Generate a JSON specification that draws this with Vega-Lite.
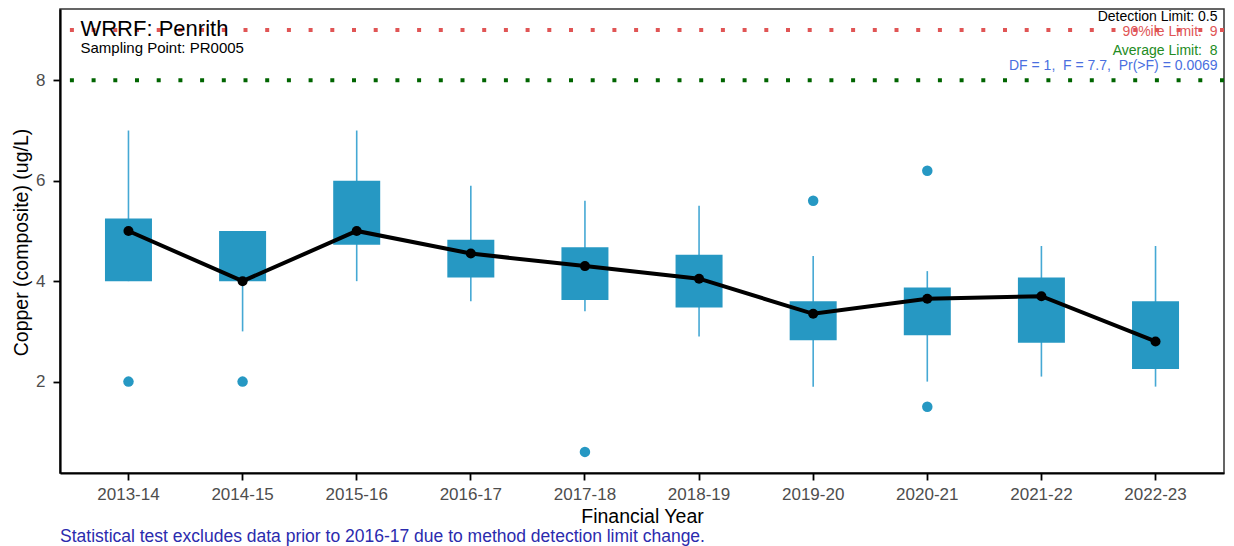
{
  "$schema": "https://vega.github.io/schema/vega-lite/v6.json",
  "width": 1164,
  "height": 464,
  "autosize": {"type": "none"},
  "padding": {"left": 60, "top": 9, "right": 10, "bottom": 73},
  "background": "white",
  "config": {
    "font": "Liberation Sans",
    "view": {"stroke": "#333333", "strokeWidth": 1.5},
    "axis": {"grid": false, "domainColor": "black", "domainWidth": 2.2, "tickColor": "black", "tickWidth": 1.8, "tickSize": 7, "labelColor": "#4D4D4D", "labelFontSize": 17, "titleColor": "black", "titleFontSize": 19.5, "titleFontWeight": "normal", "labelFont": "Liberation Sans", "titleFont": "Liberation Sans"}
  },
  "title": {"text": "Statistical test excludes data prior to 2016-17 due to method detection limit change.", "orient": "bottom", "anchor": "start", "frame": "group", "fontSize": 17.5, "fontWeight": "normal", "color": "#2B2BAE", "offset": 2, "font": "Liberation Sans"},
  "datasets": {
    "boxes": [
      {"year": "2013-14", "lower": 4.0, "q1": 4.0, "median": 5.0, "q3": 5.25, "upper": 7.0},
      {"year": "2014-15", "lower": 3.0, "q1": 4.0, "median": 4.0, "q3": 5.0, "upper": 5.0},
      {"year": "2015-16", "lower": 4.0, "q1": 4.725, "median": 5.0, "q3": 6.0, "upper": 7.0},
      {"year": "2016-17", "lower": 3.6, "q1": 4.075, "median": 4.55, "q3": 4.825, "upper": 5.9},
      {"year": "2017-18", "lower": 3.4, "q1": 3.625, "median": 4.3, "q3": 4.675, "upper": 5.6},
      {"year": "2018-19", "lower": 2.9, "q1": 3.475, "median": 4.05, "q3": 4.525, "upper": 5.5},
      {"year": "2019-20", "lower": 1.9, "q1": 2.825, "median": 3.35, "q3": 3.6, "upper": 4.5},
      {"year": "2020-21", "lower": 2.0, "q1": 2.925, "median": 3.65, "q3": 3.875, "upper": 4.2},
      {"year": "2021-22", "lower": 2.1, "q1": 2.775, "median": 3.7, "q3": 4.075, "upper": 4.7},
      {"year": "2022-23", "lower": 1.9, "q1": 2.25, "median": 2.8, "q3": 3.6, "upper": 4.7}
    ],
    "outliers": [
      {"year": "2013-14", "value": 2.0},
      {"year": "2014-15", "value": 2.0},
      {"year": "2017-18", "value": 0.6},
      {"year": "2019-20", "value": 5.6},
      {"year": "2020-21", "value": 6.2},
      {"year": "2020-21", "value": 1.5}
    ]
  },
  "layer": [
    {
      "data": {"name": "boxes"},
      "mark": {"type": "rule", "color": "#45A8D4", "strokeWidth": 1.6},
      "encoding": {
        "x": {"field": "year", "type": "nominal", "title": "Financial Year",
              "scale": {"paddingInner": 0, "paddingOuter": 0.1},
              "axis": {"labelAngle": 0, "labelPadding": 6, "titleY": 49, "titleBaseline": "alphabetic"}},
        "y": {"field": "lower", "type": "quantitative", "title": "Copper (composite) (ug/L)",
              "scale": {"domain": [0.18, 9.42], "nice": false, "zero": false},
              "axis": {"values": [2, 4, 6, 8], "labelPadding": 8, "titleX": -39, "titleY": 233, "titleAngle": 270, "titleAlign": "center", "titleBaseline": "middle"}},
        "y2": {"field": "upper"}
      }
    },
    {
      "data": {"name": "boxes"},
      "mark": {"type": "bar", "color": "#2698C3", "width": 47},
      "encoding": {
        "x": {"field": "year", "type": "nominal"},
        "y": {"field": "q1", "type": "quantitative"},
        "y2": {"field": "q3"}
      }
    },
    {
      "data": {"name": "outliers"},
      "mark": {"type": "circle", "color": "#2698C3", "size": 110, "opacity": 1},
      "encoding": {
        "x": {"field": "year", "type": "nominal"},
        "y": {"field": "value", "type": "quantitative"}
      }
    },
    {
      "data": {"name": "boxes"},
      "mark": {"type": "line", "color": "black", "strokeWidth": 4},
      "encoding": {
        "x": {"field": "year", "type": "nominal"},
        "y": {"field": "median", "type": "quantitative"}
      }
    },
    {
      "data": {"name": "boxes"},
      "mark": {"type": "circle", "color": "black", "size": 100, "opacity": 1},
      "encoding": {
        "x": {"field": "year", "type": "nominal"},
        "y": {"field": "median", "type": "quantitative"}
      }
    },
    {
      "data": {"values": [{}]},
      "mark": {"type": "rule", "color": "#E05555", "strokeWidth": 4, "strokeDash": [4, 17.7], "strokeCap": "butt"},
      "encoding": {"y": {"datum": 9}}
    },
    {
      "data": {"values": [{}]},
      "mark": {"type": "rule", "color": "#006400", "strokeWidth": 4, "strokeDash": [4, 17.7], "strokeCap": "butt"},
      "encoding": {"y": {"datum": 8}}
    },
    {
      "data": {"values": [{}]},
      "mark": {"type": "text", "align": "left", "baseline": "middle", "fontSize": 22, "color": "black", "dx": -48},
      "encoding": {"x": {"datum": "2013-14", "type": "nominal"}, "y": {"datum": 9.03}, "text": {"value": "WRRF: Penrith"}}
    },
    {
      "data": {"values": [{}]},
      "mark": {"type": "text", "align": "left", "baseline": "middle", "fontSize": 15, "color": "black", "dx": -48},
      "encoding": {"x": {"datum": "2013-14", "type": "nominal"}, "y": {"datum": 8.643}, "text": {"value": "Sampling Point: PR0005"}}
    },
    {
      "data": {"values": [{}]},
      "mark": {"type": "text", "align": "right", "baseline": "middle", "fontSize": 14, "color": "black", "dx": 62},
      "encoding": {"x": {"datum": "2022-23", "type": "nominal"}, "y": {"datum": 9.255}, "text": {"value": "Detection Limit: 0.5"}}
    },
    {
      "data": {"values": [{}]},
      "mark": {"type": "text", "align": "right", "baseline": "middle", "fontSize": 14, "color": "#E05555", "dx": 62},
      "encoding": {"x": {"datum": "2022-23", "type": "nominal"}, "y": {"datum": 8.956}, "text": {"value": "90%ile Limit:\u00a0 9"}}
    },
    {
      "data": {"values": [{}]},
      "mark": {"type": "text", "align": "right", "baseline": "middle", "fontSize": 14, "color": "#228B22", "dx": 62},
      "encoding": {"x": {"datum": "2022-23", "type": "nominal"}, "y": {"datum": 8.59}, "text": {"value": "Average Limit:\u00a0 8"}}
    },
    {
      "data": {"values": [{}]},
      "mark": {"type": "text", "align": "right", "baseline": "middle", "fontSize": 14, "color": "#4A6FE0", "dx": 62},
      "encoding": {"x": {"datum": "2022-23", "type": "nominal"}, "y": {"datum": 8.291}, "text": {"value": "DF = 1,\u00a0 F = 7.7,\u00a0 Pr(>F) = 0.0069"}}
    }
  ]
}
